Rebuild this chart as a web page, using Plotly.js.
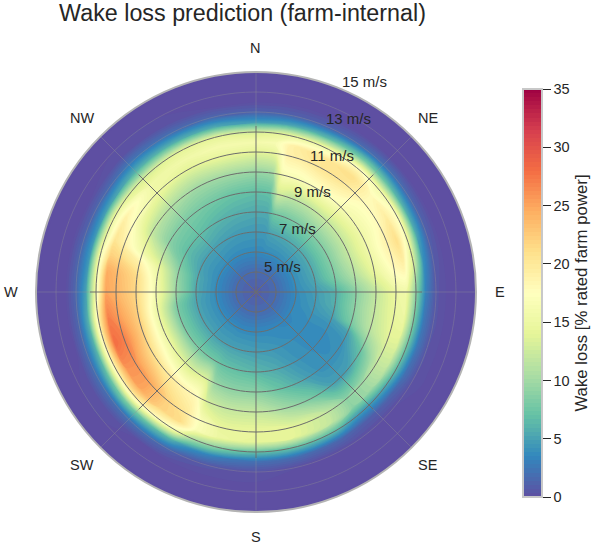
<!DOCTYPE html>
<html>
<head>
<meta charset="utf-8">
<script src="https://cdn.plot.ly/plotly-3.0.1.min.js"></script>
<style>
html, body { margin: 0; padding: 0; background: #fff; }
#chart { width: 600px; height: 544px; }
</style>
</head>
<body>
<div id="chart"></div>
<script>
// wind speed [m/s] along the radius, wind direction [deg] around the circle
var speeds = [3, 4, 5, 6, 7, 8, 9, 10, 10.5, 11, 11.5, 12, 12.5, 13, 14];
var directions = [0, 8, 13, 20, 30, 40, 50, 60, 70, 80, 90, 100, 108, 114, 120, 130, 140, 150, 165, 180,
    195, 204, 210, 220, 230, 240, 250, 260, 270, 278, 284, 290, 300, 315, 330, 345, 360];

// wake loss [% rated farm power], one row per direction
var wakeLoss = [
    [0.8, 1.7, 3.6, 4.5, 5.5, 6.8, 9.5, 14.0, 16.0, 13.0, 4.5, 1.2, 0, 0, 0],
    [0.8, 1.7, 3.6, 4.5, 5.6, 7.0, 10.0, 14.5, 16.5, 14.0, 5.0, 1.2, 0, 0, 0],
    [0.8, 1.7, 3.7, 5.0, 7.5, 12.5, 16.5, 19.0, 19.0, 14.5, 5.5, 1.2, 0, 0, 0],
    [0.8, 1.7, 3.7, 5.2, 7.8, 11.5, 16.5, 19.5, 20.0, 15.0, 6.0, 1.2, 0, 0, 0],
    [0.8, 1.7, 3.7, 5.4, 8.0, 11.5, 17.0, 20.5, 20.5, 16.0, 7.0, 1.5, 0, 0, 0],
    [0.8, 1.7, 3.8, 5.5, 8.2, 12.0, 17.0, 20.0, 21.0, 18.0, 8.0, 2.0, 0, 0, 0],
    [0.8, 1.7, 3.8, 5.5, 8.5, 12.0, 16.0, 18.0, 18.0, 16.0, 7.0, 2.0, 0, 0, 0],
    [0.8, 1.7, 3.8, 5.5, 8.5, 12.0, 15.5, 18.0, 19.5, 17.0, 6.0, 1.5, 0, 0, 0],
    [0.8, 1.7, 3.8, 5.5, 8.5, 12.0, 15.5, 19.0, 21.0, 16.0, 5.5, 1.2, 0, 0, 0],
    [0.8, 1.7, 3.8, 5.3, 8.0, 11.0, 14.5, 18.0, 19.0, 13.0, 4.0, 0.8, 0, 0, 0],
    [0.8, 1.7, 3.7, 4.8, 6.0, 9.0, 12.0, 15.0, 15.5, 9.0, 3.0, 0.5, 0, 0, 0],
    [0.8, 1.7, 3.6, 4.6, 5.8, 9.0, 12.0, 14.5, 15.0, 8.0, 2.5, 0.5, 0, 0, 0],
    [0.8, 1.7, 3.6, 4.3, 5.0, 8.0, 11.5, 14.0, 14.0, 7.5, 2.5, 0.4, 0, 0, 0],
    [0.8, 1.7, 3.5, 4.0, 4.2, 5.0, 9.5, 13.0, 13.0, 7.0, 2.2, 0.4, 0, 0, 0],
    [0.8, 1.7, 3.5, 3.8, 3.8, 4.2, 7.0, 12.0, 12.0, 6.5, 2.0, 0.3, 0, 0, 0],
    [0.8, 1.7, 3.4, 3.7, 3.7, 3.9, 5.0, 10.0, 10.0, 5.0, 1.2, 0, 0, 0, 0],
    [0.8, 1.7, 3.4, 3.8, 3.9, 4.0, 5.0, 9.0, 9.0, 4.5, 1.0, 0, 0, 0, 0],
    [0.8, 1.7, 3.5, 4.0, 4.3, 5.0, 7.5, 12.0, 12.0, 6.5, 1.5, 0, 0, 0, 0],
    [0.8, 1.7, 3.6, 4.5, 5.5, 7.0, 10.0, 14.0, 14.0, 7.0, 1.8, 0, 0, 0, 0],
    [0.8, 1.7, 3.6, 4.8, 6.3, 8.8, 12.0, 14.5, 14.0, 7.0, 2.0, 0.3, 0, 0, 0],
    [0.8, 1.7, 3.6, 5.0, 6.8, 9.0, 12.0, 14.5, 15.0, 9.0, 3.0, 0.5, 0, 0, 0],
    [0.8, 1.7, 3.6, 5.0, 7.0, 9.5, 13.0, 17.0, 17.0, 11.0, 4.0, 0.8, 0, 0, 0],
    [0.8, 1.7, 3.7, 5.0, 7.5, 13.5, 18.0, 20.0, 21.0, 16.0, 6.0, 1.5, 0, 0, 0],
    [0.8, 1.7, 3.7, 5.0, 7.7, 13.0, 19.0, 22.0, 22.0, 18.0, 7.0, 2.0, 0, 0, 0],
    [0.8, 1.7, 3.7, 5.2, 8.0, 14.0, 20.0, 25.0, 25.0, 20.0, 8.0, 2.0, 0.3, 0, 0],
    [0.8, 1.7, 3.7, 5.2, 8.0, 15.0, 21.0, 26.0, 26.0, 19.0, 7.0, 2.0, 0.3, 0, 0],
    [0.8, 1.7, 3.7, 5.2, 8.0, 15.0, 22.0, 27.0, 28.0, 19.0, 6.0, 1.8, 0, 0, 0],
    [0.8, 1.7, 3.7, 5.2, 8.0, 15.0, 22.0, 25.5, 27.0, 19.0, 6.0, 1.5, 0, 0, 0],
    [0.8, 1.7, 3.7, 5.5, 9.7, 16.0, 21.5, 24.0, 25.0, 16.0, 5.0, 1.5, 0, 0, 0],
    [0.8, 1.7, 3.7, 5.5, 9.5, 15.5, 21.0, 23.5, 24.5, 16.0, 4.5, 1.5, 0, 0, 0],
    [0.8, 1.7, 3.7, 5.5, 9.0, 14.5, 19.0, 21.5, 22.0, 16.0, 4.5, 1.5, 0, 0, 0],
    [0.8, 1.7, 3.7, 5.2, 8.0, 12.0, 15.5, 19.0, 20.5, 15.0, 4.5, 1.3, 0, 0, 0],
    [0.8, 1.7, 3.7, 5.0, 6.8, 8.8, 12.0, 17.0, 19.0, 15.0, 5.0, 1.5, 0, 0, 0],
    [0.8, 1.7, 3.7, 5.0, 6.8, 8.2, 10.8, 15.0, 15.5, 13.0, 6.0, 2.5, 0.3, 0, 0],
    [0.8, 1.7, 3.6, 4.8, 6.2, 7.8, 10.0, 14.0, 15.5, 14.0, 6.0, 2.0, 0.2, 0, 0],
    [0.8, 1.7, 3.6, 4.6, 5.8, 7.2, 10.0, 14.5, 16.0, 14.0, 5.5, 1.5, 0, 0, 0],
    [0.8, 1.7, 3.6, 4.5, 5.5, 6.8, 9.5, 14.0, 16.0, 13.0, 4.5, 1.2, 0, 0, 0]
];

var compassAngles = [0, 45, 90, 135, 180, 225, 270, 315];
var compassLabels = ['N', 'NE', 'E', 'SE', 'S', 'SW', 'W', 'NW'];
var compassX = [255, 428, 500, 428, 256, 82, 11, 82];
var compassY = [48, 118, 292, 465, 537, 465, 292, 118];

var speedLabels = ['5 m/s', '7 m/s', '9 m/s', '11 m/s', '13 m/s', '15 m/s'];
var speedLabelX = [282, 297, 312, 332, 348, 364];
var speedLabelY = [267, 229, 191, 155, 118, 81];

var darkRings = [4, 5, 6, 7, 8, 9, 10, 11];
var faintRings = [12, 13];
var spokeSplit = 11.3;

var colorbarTicks = [0, 5, 10, 15, 20, 25, 30, 35];
var spectralReversed = [
    [0.0, '#5e4fa2'], [0.1, '#3288bd'], [0.2, '#66c2a5'], [0.3, '#abdda4'], [0.4, '#e6f598'], [0.5, '#ffffbf'],
    [0.6, '#fee08b'], [0.7, '#fdae61'], [0.8, '#f46d43'], [0.9, '#d53e4f'], [1.0, '#9e0142']
];

var W = 600, H = 544;
var textColor = '#262626';
var fontFamily = '"Liberation Sans", Arial, sans-serif';
var gridDark = '#6c6c6c';
var gridFaint = 'rgba(150,150,150,0.35)';
var innerSpeed = speeds[0];
var outerSpeed = speeds[speeds.length - 1];
var span = outerSpeed - innerSpeed;

// projection of the speed/direction grid for the carpet
function gridPositions(project) {
    return directions.map(function (dir) {
        return speeds.map(function (v) {
            return project((v - innerSpeed), dir * Math.PI / 180);
        });
    });
}

var carpet = {
    type: 'carpet',
    carpet: 'wind',
    a: speeds,
    b: directions,
    x: gridPositions(function (r, t) { return r * Math.sin(t); }),
    y: gridPositions(function (r, t) { return r * Math.cos(t); }),
    aaxis: { smoothing: 0, showgrid: false, minorgridcount: 0, startline: false, endline: false, showticklabels: 'none', ticks: '' },
    baxis: { smoothing: 0, showgrid: false, minorgridcount: 0, startline: false, endline: false, showticklabels: 'none', ticks: '' },
    hoverinfo: 'skip'
};

var field = {
    type: 'contourcarpet',
    carpet: 'wind',
    a: speeds,
    b: directions,
    z: wakeLoss,
    autocontour: false,
    contours: { start: 0, end: 35, size: 0.35, coloring: 'fill', showlines: false },
    line: { width: 0 },
    colorscale: spectralReversed,
    zmin: 0,
    zmax: 35,
    colorbar: {
        x: 523 / W,
        xanchor: 'left',
        xpad: 0,
        y: 1 - 497 / H,
        yanchor: 'bottom',
        ypad: 0,
        len: 408 / H,
        thickness: 19,
        outlinecolor: '#c8c8c8',
        outlinewidth: 2,
        ticks: 'outside',
        ticklen: 8,
        tickcolor: textColor,
        tickvals: colorbarTicks,
        tickprefix: '\u00a0\u00a0',
        tickfont: { family: fontFamily, size: 14.5, color: textColor },
        title: { text: 'Wake loss [% rated farm power]', side: 'right', font: { family: fontFamily, size: 16.8, color: textColor } }
    }
};

// thin ring that closes the outer edge of the field
var rim = {
    type: 'barpolar',
    r: [0.15],
    base: [outerSpeed - 0.15],
    theta: [180],
    width: [360],
    marker: { color: spectralReversed[0][1], line: { width: 0 } },
    showlegend: false,
    hoverinfo: 'skip'
};

function ringTrace(v, color) {
    var thetas = [];
    for (var a = 0; a <= 360; a += 3) thetas.push(a);
    return {
        type: 'scatterpolar',
        mode: 'lines',
        r: thetas.map(function () { return v; }),
        theta: thetas,
        line: { color: color, width: 1 },
        showlegend: false,
        hoverinfo: 'skip'
    };
}

function spokeTrace(angle, from, to, color) {
    return {
        type: 'scatterpolar',
        mode: 'lines',
        r: [from, to],
        theta: [angle, angle],
        line: { color: color, width: 1 },
        showlegend: false,
        hoverinfo: 'skip'
    };
}

var gridTraces = [];
darkRings.forEach(function (v) { gridTraces.push(ringTrace(v, gridDark)); });
faintRings.forEach(function (v) { gridTraces.push(ringTrace(v, gridFaint)); });
compassAngles.forEach(function (angle) {
    gridTraces.push(spokeTrace(angle, innerSpeed, spokeSplit, gridDark));
    gridTraces.push(spokeTrace(angle, spokeSplit, outerSpeed, gridFaint));
});

var domainX = [36 / W, 476 / W];
var domainY = [1 - 512 / H, 1 - 72 / H];

function textNote(text, x, y, size) {
    return {
        text: text,
        xref: 'paper',
        yref: 'paper',
        x: x / W,
        y: 1 - y / H,
        xanchor: 'center',
        yanchor: 'middle',
        showarrow: false,
        font: { family: fontFamily, size: size, color: textColor }
    };
}

var layout = {
    width: W,
    height: H,
    margin: { l: 0, r: 0, t: 0, b: 0 },
    paper_bgcolor: '#fff',
    plot_bgcolor: 'rgba(0,0,0,0)',
    showlegend: false,
    title: {
        text: 'Wake loss prediction (farm-internal)',
        font: { family: fontFamily, size: 23.3, color: textColor },
        x: 242.5 / W,
        xanchor: 'center',
        y: 1 - 13 / H,
        yanchor: 'middle'
    },
    xaxis: { domain: domainX, range: [-span, span], visible: false, fixedrange: true },
    yaxis: { domain: domainY, range: [-span, span], visible: false, fixedrange: true },
    polar: {
        domain: { x: domainX, y: domainY },
        bgcolor: 'rgba(0,0,0,0)',
        radialaxis: {
            range: [innerSpeed, outerSpeed],
            showgrid: false,
            showticklabels: false,
            ticks: '',
            showline: false
        },
        angularaxis: {
            rotation: 90,
            direction: 'clockwise',
            showgrid: false,
            showticklabels: false,
            ticks: '',
            linecolor: '#b4b4b4',
            linewidth: 2
        }
    },
    annotations: speedLabels.map(function (label, i) {
        return textNote(label, speedLabelX[i], speedLabelY[i], 15);
    }).concat(compassLabels.map(function (label, i) {
        return textNote(label, compassX[i], compassY[i], 14.5);
    }))
};

Plotly.newPlot('chart', [carpet, field, rim].concat(gridTraces), layout, { displayModeBar: false, staticPlot: true });
</script>
</body>
</html>
